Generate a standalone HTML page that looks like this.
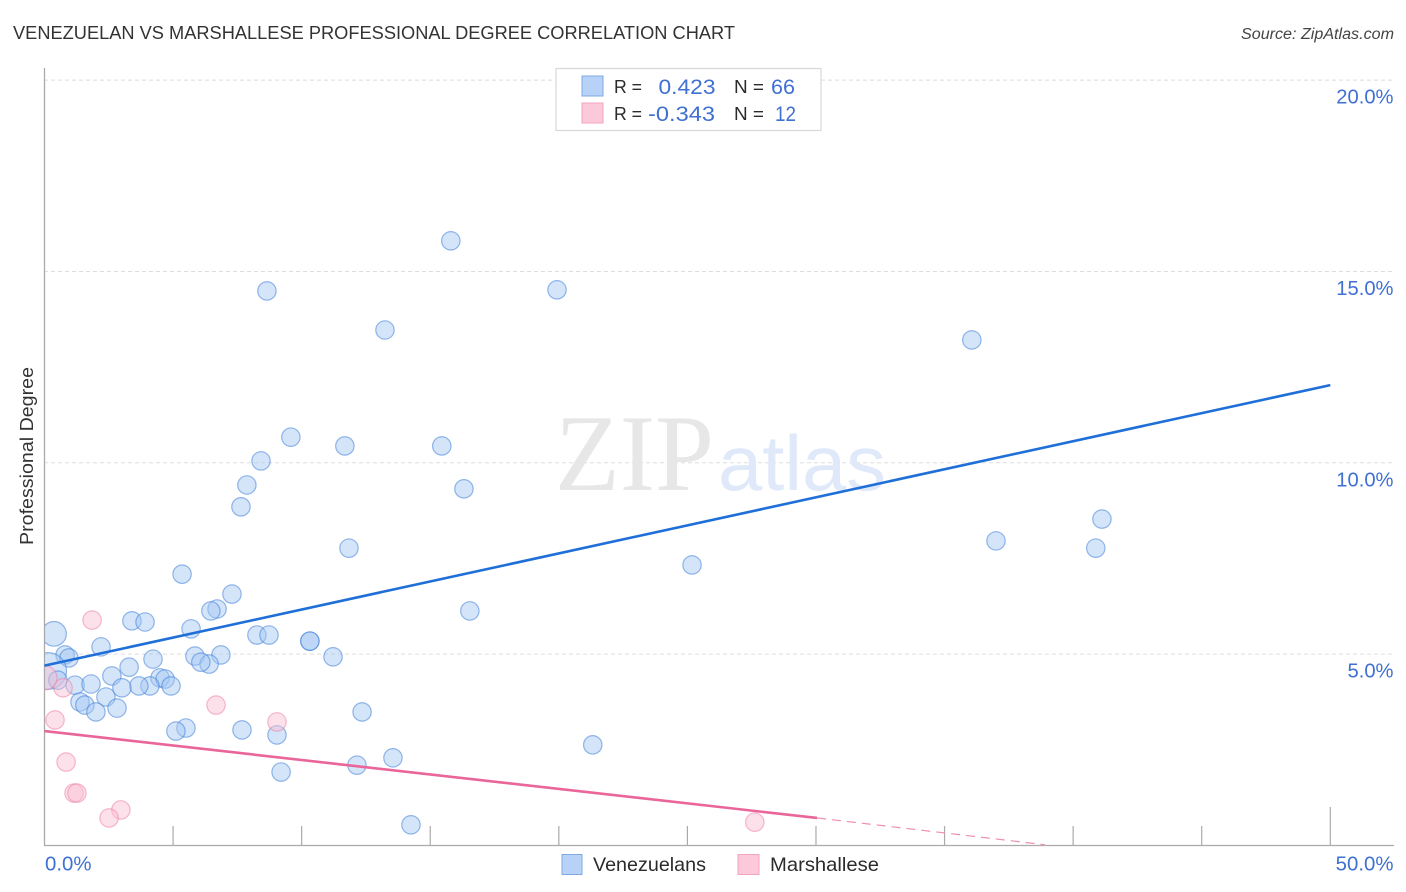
<!DOCTYPE html>
<html lang="en">
<head>
<meta charset="utf-8">
<title>Venezuelan vs Marshallese Professional Degree Correlation Chart</title>
<style>
html,body{margin:0;padding:0;background:#fff;width:1406px;height:892px;overflow:hidden}
svg{display:block}
text{font-family:"Liberation Sans",sans-serif}
.blue{fill:#3f70d2}
.dark{fill:#2b2b2b}
</style>
</head>
<body>
<svg id="chart" xmlns="http://www.w3.org/2000/svg" width="1406" height="892" viewBox="0 0 1406 892">
  <rect x="0" y="0" width="1406" height="892" fill="#ffffff"/>
  <text x="13" y="39" font-size="18.5" textLength="722" lengthAdjust="spacingAndGlyphs" fill="#333">VENEZUELAN VS MARSHALLESE PROFESSIONAL DEGREE CORRELATION CHART</text>
  <text x="1241" y="39" font-size="15.5" font-style="italic" textLength="153" lengthAdjust="spacingAndGlyphs" fill="#444">Source: ZipAtlas.com</text>

  <g id="grid"></g>

  <g>
    <text x="555" y="490" font-size="109" textLength="159" lengthAdjust="spacingAndGlyphs" style="font-family:'Liberation Serif',serif" fill="#e7e7e7">ZIP</text>
    <text x="718" y="490" font-size="78" textLength="168" lengthAdjust="spacingAndGlyphs" fill="#dfe9f9">atlas</text>
  </g>

  <g id="axes">
    <line x1="44.5" y1="68" x2="44.5" y2="846" stroke="#aaaaaa" stroke-width="1.3"/>
    <line x1="44" y1="845.5" x2="1394" y2="845.5" stroke="#aaaaaa" stroke-width="1.3"/>
  </g>
  <g id="xticks"></g>
  <g id="ylabels"></g>
  <g id="xlabels"></g>

  <text transform="translate(33,545) rotate(-90)" font-size="18.5" textLength="178" lengthAdjust="spacingAndGlyphs" fill="#333">Professional Degree</text>

  <defs>
    <clipPath id="plot-clip"><rect x="45" y="60" width="1349" height="785"/></clipPath>
  </defs>
  <g id="points" clip-path="url(#plot-clip)"></g>
  <g id="trends"></g>

  <g>
    <rect x="556" y="68.5" width="265" height="62" fill="#ffffff" stroke="#d8d8d8" stroke-width="1.2"/>
    <rect x="582" y="76" width="21" height="20" fill="#b7d2f6" stroke="#7fa9e3" stroke-width="1"/>
    <rect x="582" y="103" width="21" height="20" fill="#fcc9da" stroke="#f1a4bf" stroke-width="1"/>
    <text class="dark" x="614" y="93" font-size="18.5" textLength="28" lengthAdjust="spacingAndGlyphs">R =</text>
    <text class="blue" x="658.5" y="94" font-size="21" textLength="57" lengthAdjust="spacingAndGlyphs">0.423</text>
    <text class="dark" x="734" y="93" font-size="18.5" textLength="30" lengthAdjust="spacingAndGlyphs">N =</text>
    <text class="blue" x="771" y="94" font-size="21" textLength="24" lengthAdjust="spacingAndGlyphs">66</text>
    <text class="dark" x="614" y="120" font-size="18.5" textLength="28" lengthAdjust="spacingAndGlyphs">R =</text>
    <text class="blue" x="648" y="121" font-size="21" textLength="67" lengthAdjust="spacingAndGlyphs">-0.343</text>
    <text class="dark" x="734" y="120" font-size="18.5" textLength="30" lengthAdjust="spacingAndGlyphs">N =</text>
    <text class="blue" x="775" y="121" font-size="21" textLength="21" lengthAdjust="spacingAndGlyphs">12</text>
  </g>

  <g>
    <rect x="562" y="854.5" width="20" height="20" fill="#b7d2f6" stroke="#7fa9e3" stroke-width="1"/>
    <text class="dark" x="593" y="871" font-size="19.5" textLength="113" lengthAdjust="spacingAndGlyphs">Venezuelans</text>
    <rect x="738" y="854.5" width="21" height="20" fill="#fcc9da" stroke="#f1a4bf" stroke-width="1"/>
    <text class="dark" x="770" y="871" font-size="19.5" textLength="109" lengthAdjust="spacingAndGlyphs">Marshallese</text>
  </g>
</svg>

<script>
const yTickValues = [5, 10, 15, 20];
const yTickLabels = ['5.0%', '10.0%', '15.0%', '20.0%'];
const xTickValues = [5, 10, 15, 20, 25, 30, 35, 40, 45, 50];
const xEndValues = [0, 50];
const xEndLabels = ['0.0%', '50.0%'];

const venezuelanX = [8.65,15.80,19.93,13.24,36.06,9.58,11.68,15.45,8.42,7.87,16.31,7.64,41.12,37.00,40.88,11.84,25.18,5.35,7.29,6.71,6.47,16.54,3.40,3.91,5.70,0.37,8.26,8.73,10.32,10.32,2.20,0.80,0.95,6.86,5.85,11.22,4.22,6.40,6.08,3.29,0.14,2.62,4.49,4.69,0.52,1.19,1.81,4.92,4.10,3.67,3.01,2.39,1.38,1.57,2.82,2.00,12.35,5.50,5.11,7.68,9.04,21.32,13.55,12.15,9.20,14.25];
const venezuelanY = [14.49,15.80,14.52,13.47,13.21,10.67,10.44,10.44,10.05,9.42,9.32,8.85,8.53,7.96,7.77,7.77,7.33,7.09,6.57,6.18,6.13,6.13,5.87,5.84,5.66,5.53,5.50,5.50,5.34,5.34,5.19,4.98,4.90,4.98,4.95,4.93,4.87,4.74,4.79,4.66,4.56,4.43,4.38,4.35,4.32,4.19,4.22,4.17,4.17,4.17,4.12,3.88,3.75,3.67,3.59,3.49,3.49,3.07,2.99,3.02,2.89,2.63,2.29,2.10,1.92,0.54];
const venezuelanPopulation = [1,1,1,1,1,1,1,1,1,1,1,1,1,1,1,1,1,1,1,1,1,1,1,1,1,1.8,1,1,1,1,1,1,1,1,1,1,1,1,1,1,4,1,1,1,1,1,1,1,1,1,1,1,1,1,1,1,1,1,1,1,1,1,1,1,1,1];

const marshalleseX = [1.85,0.72,0.41,0.84,1.15,1.26,2.97,2.51,6.67,9.04,27.62,0.02];
const marshalleseY = [5.89,4.12,3.28,2.18,1.37,1.37,0.93,0.72,3.67,3.23,0.61,4.38];
const marshallesePopulation = [1,1,1,1,1,1,1,1,1,1,1,1.7];

const venezuelanTrendX = [0, 50];
const venezuelanTrendY = [4.70, 12.03];
const marshalleseTrendX = [0, 30.04];
const marshalleseTrendY = [2.99, 0.72];
const marshalleseDashX = [30.04, 38.9];
const marshalleseDashY = [0.72, 0.02];

const NS = 'http://www.w3.org/2000/svg';
function xScale(v) { return 44.5 + v * 25.716; }
function yScale(v) { return 845.5 - v * 38.27; }
function rScale(p) { return 9.2 * Math.sqrt(p); }

function make(tag, attrs, parent) {
  const el = document.createElementNS(NS, tag);
  Object.keys(attrs).forEach(function (k) { el.setAttribute(k, attrs[k]); });
  parent.appendChild(el);
  return el;
}

const gridGroup = document.getElementById('grid');
const yLabelGroup = document.getElementById('ylabels');
yTickValues.forEach(function (v, i) {
  const g = make('line', { x1: 44, x2: 1394, y1: yScale(v), y2: yScale(v), stroke: '#dedede', 'stroke-width': 1, 'stroke-dasharray': '4 3' }, gridGroup);
  
  
  const t = make('text', { x: 1393.5, y: yScale(v) + 23.5, 'text-anchor': 'end', 'font-size': 20.2, class: 'blue' }, yLabelGroup);
  t.textContent = yTickLabels[i];
  
  
});

const xTickGroup = document.getElementById('xticks');
xTickValues.forEach(function (v) {
  const top = v === 50 ? 807 : 826;
  const l = make('line', { x1: xScale(v), x2: xScale(v), y1: top, y2: 845.5, stroke: '#aaaaaa', 'stroke-width': 1.2 }, xTickGroup);
  
  
});

const xLabelGroup = document.getElementById('xlabels');
xEndValues.forEach(function (v, i) {
  const isEnd = v === 50;
  const t = make('text', { x: isEnd ? 1393.5 : 45, y: 870.5, 'text-anchor': isEnd ? 'end' : 'start', 'font-size': 20.4, class: 'blue' }, xLabelGroup);
  t.textContent = xEndLabels[i];
  
  
});

const pointGroup = document.getElementById('points');
venezuelanX.forEach(function (v, i) {
  const c = make('circle', { cx: xScale(v), cy: yScale(venezuelanY[i]), r: rScale(venezuelanPopulation[i]), fill: 'rgba(163,198,243,0.46)', stroke: 'rgba(62,128,216,0.55)', 'stroke-width': 1.2 }, pointGroup);
  
  
});
marshalleseX.forEach(function (v, i) {
  const c = make('circle', { cx: xScale(v), cy: yScale(marshalleseY[i]), r: rScale(marshallesePopulation[i]), fill: 'rgba(250,190,210,0.46)', stroke: 'rgba(236,130,170,0.55)', 'stroke-width': 1.2 }, pointGroup);
  
  
});

const trendGroup = document.getElementById('trends');
const venezuelanLine = make('line', { x1: xScale(venezuelanTrendX[0]), y1: yScale(venezuelanTrendY[0]), x2: xScale(venezuelanTrendX[1]), y2: yScale(venezuelanTrendY[1]), stroke: '#1f6fd8', 'stroke-width': 2.6 }, trendGroup);


const marshalleseLine = make('line', { x1: xScale(marshalleseTrendX[0]), y1: yScale(marshalleseTrendY[0]), x2: xScale(marshalleseTrendX[1]), y2: yScale(marshalleseTrendY[1]), stroke: '#e9659a', 'stroke-width': 2.6 }, trendGroup);


const marshalleseDash = make('line', { x1: xScale(marshalleseDashX[0]), y1: yScale(marshalleseDashY[0]), x2: xScale(marshalleseDashX[1]), y2: yScale(marshalleseDashY[1]), stroke: '#ee8fb4', 'stroke-width': 1.2, 'stroke-dasharray': '9 6' }, trendGroup);


</script>
</body>
</html>
